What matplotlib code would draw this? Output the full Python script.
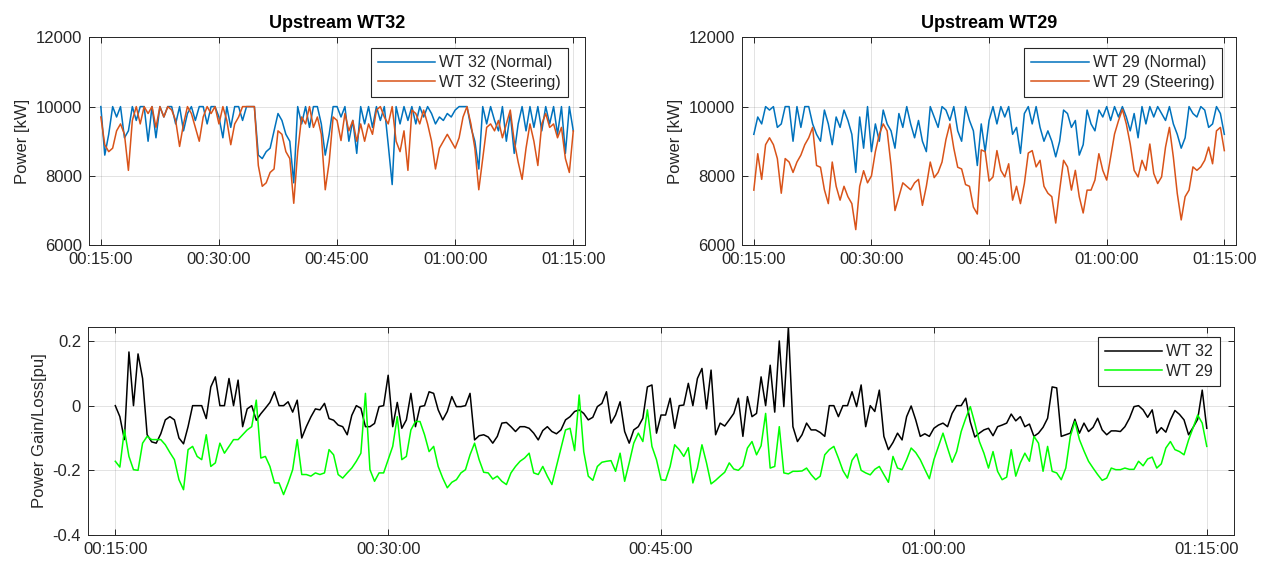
import numpy as np
import matplotlib.pyplot as plt

plt.rcParams['font.family'] = ['Liberation Sans', 'DejaVu Sans']
plt.rcParams['axes.unicode_minus'] = False

# ---- data ----
# top panels: one sample every 30 s from 00:15:00 to 01:15:00
wt32_normal = [
    10000, 8600, 9200, 10000, 9700, 10000, 9100, 9300, 10000, 9600,
    10000, 10000, 9000, 10000, 9100, 10000, 9700, 10000, 10000, 9500,
    10000, 9300, 9800, 10000, 9600, 10000, 10000, 9500, 10000, 10000,
    9700, 9100, 10000, 9400, 10000, 10000, 9600, 10000, 10000, 10000,
    8600, 8500, 8700, 8800, 9300, 9800, 9600, 9200, 9000, 7800,
    10000, 9500, 10000, 9400, 10000, 10000, 9500, 8600, 9200, 10000,
    10000, 9700, 10000, 9000, 9600, 8650, 10000, 9500, 10000, 9400,
    10000, 9600, 10000, 8900, 7750, 10000, 9500, 10000, 9600, 10000,
    9500, 10000, 9700, 10000, 9800, 9500, 9700, 9600, 9800, 9700,
    9900, 10000, 10000, 10000, 9400, 9000, 8200, 10000, 9500, 10000,
    9600, 9300, 10000, 9000, 9800, 8650, 9500, 10000, 9300, 10000,
    9400, 10000, 9300, 10000, 9500, 10000, 9200, 10000, 8650, 10000,
    9300]
wt32_steering = [
    9700, 8900, 8700, 8800, 9300, 9500, 9200, 8160, 9600, 10000,
    9500, 10000, 9800, 10000, 9400, 10000, 9700, 10000, 9900, 9600,
    8850, 9500, 10000, 9800, 9400, 9000, 9700, 10000, 9800, 10000,
    9500, 10000, 9600, 8900, 9500, 9700, 10000, 10000, 10000, 10000,
    8300, 7700, 7800, 8100, 8200, 9300, 9200, 8700, 8500, 7210,
    8700, 9700, 9500, 10000, 9400, 9700, 9200, 7600, 8400, 9700,
    9600, 9020, 9800, 9300, 9600, 9000, 9500, 9000, 9500, 9200,
    9900, 10000, 9700, 9500, 10000, 9000, 8700, 9300, 8160, 9900,
    9800, 9500, 9900, 9500, 9000, 8200, 8800, 9000, 9200, 9000,
    8800, 9100, 9700, 10000, 9500, 8800, 7600, 8500, 9400, 9500,
    9300, 9600, 9100, 9500, 9900, 9000, 8400, 7900, 8800, 9500,
    9000, 8300, 9500, 9800, 9400, 9500, 9100, 9400, 8500, 8100,
    9300]
wt29_normal = [
    9200, 9700, 9500, 10000, 9900, 10000, 9400, 9500, 10000, 10000,
    9000, 10000, 9400, 10000, 10000, 9500, 9200, 9000, 9900, 9500,
    8900, 9700, 9400, 9900, 9600, 9200, 8100, 9700, 8800, 10000,
    8700, 9500, 9000, 9900, 9500, 9300, 8800, 9800, 9400, 10000,
    9500, 9100, 9600, 9000, 8700, 10000, 9700, 9400, 10000, 9900,
    9600, 10000, 9300, 9000, 10000, 9600, 9300, 8300, 9500, 8700,
    9600, 10000, 9500, 10000, 9700, 10000, 9200, 9400, 8650, 9800,
    10000, 9500, 10000, 9400, 9000, 9300, 9000, 8550, 9000, 9900,
    9800, 9400, 9600, 8600, 8900, 9900, 9500, 9300, 9900, 9700,
    10000, 9600, 10000, 9700, 10000, 9700, 9300, 9800, 9100, 10000,
    9500, 10000, 9700, 10000, 9800, 9600, 10000, 9500, 9200, 8800,
    9100, 10000, 9800, 9700, 10000, 9900, 9400, 9500, 10000, 9800,
    9200]
wt29_steering = [
    7590, 8640, 7900, 8900, 9100, 8900, 8500, 7500, 8500, 8400,
    8100, 8400, 8600, 8900, 9100, 9400, 8300, 8250, 7600, 7200,
    8400, 7700, 7300, 7700, 7400, 7200, 6450, 7700, 8150, 7800,
    8000, 8700, 9200, 9500, 9300, 8300, 7000, 7400, 7800, 7700,
    7600, 7800, 7900, 7150, 7700, 8400, 7950, 8100, 8400, 9050,
    9500, 8800, 8250, 8200, 7750, 7700, 7100, 6900, 8750, 8700,
    7850, 7970, 8730, 8160, 7970, 8350, 7300, 7700, 7200, 7780,
    8660, 8730, 8260, 8450, 7700, 7500, 7400, 6640, 7590, 8450,
    8260, 7590, 8160, 7400, 6930, 7590, 7590, 7880, 8640, 8160,
    7880, 8540, 9210, 9590, 9920, 9500, 8920, 8160, 7970, 8450,
    8160, 8920, 8070, 7780, 7970, 8830, 9400, 8540, 7490, 6730,
    7400, 7590, 8260, 8160, 8260, 8450, 8830, 8350, 9300, 9400,
    8730]

# bottom panel: one sample every 15 s
gain_wt32 = [
    0, -0.034, -0.105, 0.166, 0, 0.16, 0.084, -0.09, -0.112, -0.116,
    -0.087, -0.044, -0.034, -0.044, -0.1, -0.118, -0.065, 0, 0, 0,
    -0.04, 0.058, 0.089, 0, 0, 0.084, 0, 0.079, -0.065, -0.01,
    0, -0.045, -0.025, -0.008, 0.01, 0.043, 0, 0, 0.012, -0.02,
    0.017, -0.1, -0.065, -0.035, -0.01, -0.013, 0.007, -0.04, -0.045, -0.06,
    -0.065, -0.09, -0.03, 0, -0.008, -0.065, -0.065, -0.055,
    -0.003, 0, 0.094, -0.065, 0.01, -0.07, -0.044, 0.038, -0.065, -0.003,
    0, 0.043, 0.038, -0.013, -0.044, -0.018, 0.028, -0.003, -0.003, 0,
    0.038, -0.106, -0.093, -0.09, -0.097, -0.116, -0.095, -0.054, -0.052, -0.065,
    -0.08, -0.065, -0.065, -0.07, -0.085, -0.106, -0.077, -0.065, -0.08, -0.087,
    -0.075, -0.044, -0.034, -0.018, -0.013, -0.024, -0.044, -0.036, -0.003, 0.007,
    0.043, -0.054, -0.029, 0.012, -0.08, -0.116, -0.075, -0.065, -0.039, 0.058,
    0.064, -0.085, -0.029,
    -0.029, 0.023, -0.07, 0, 0.002, 0.069, 0, 0.084, 0.115, -0.01,
    0.11, -0.09, -0.054, -0.063, -0.044, -0.024, 0.023, -0.095, 0.028, -0.034,
    -0.024, 0.089, 0, 0.125, -0.02, 0.2, -0.003, 0.243, -0.065, -0.111,
    -0.09, -0.054, -0.075, -0.075, -0.083, -0.095, 0, 0, -0.034, 0,
    0, 0.043, -0.003, 0.064, -0.065, 0, -0.018, 0.048, -0.095, -0.136,
    -0.114, -0.085, -0.106, -0.034, -0.001, -0.044, -0.095, -0.087, -0.095, -0.07,
    -0.06, -0.054, -0.065, -0.024, 0, 0, 0.023, -0.05, -0.097, -0.085,
    -0.075, -0.07, -0.093, -0.065, -0.06, -0.054, -0.026, -0.047, -0.034, -0.065,
    -0.057, -0.095, -0.085, -0.067, -0.039, 0.058, 0.055, -0.095, -0.09, -0.085,
    -0.042, -0.085, -0.054, -0.08, -0.067, -0.039, -0.075, -0.09, -0.078, -0.078,
    -0.08, -0.065, -0.039, -0.003, 0, -0.013, -0.036, -0.013, -0.085, -0.068,
    -0.082, -0.044, -0.015, -0.027, -0.044, -0.09, -0.067, -0.042, 0.048, -0.07]
gain_wt29 = [
    -0.172, -0.19, -0.075, -0.157, -0.198, -0.2, -0.116, -0.095, -0.105, -0.105,
    -0.105, -0.121, -0.145, -0.167, -0.229, -0.26, -0.136, -0.126, -0.157, -0.167,
    -0.09, -0.188, -0.177, -0.116, -0.147, -0.126, -0.105, -0.105, -0.09, -0.075,
    -0.065, 0.017, -0.162, -0.157, -0.188, -0.239, -0.239, -0.275, -0.239, -0.198,
    -0.105, -0.213, -0.213, -0.218, -0.208, -0.213, -0.208, -0.136, -0.152, -0.213,
    -0.224, -0.208, -0.193, -0.172, -0.147, 0.038, -0.198, -0.234,
    -0.208, -0.208, -0.167, -0.126, -0.034, -0.167, -0.157, -0.075, -0.049, -0.049,
    -0.09, -0.142, -0.126, -0.188, -0.224, -0.254, -0.237, -0.229, -0.208, -0.198,
    -0.152, -0.116, -0.167, -0.206, -0.208, -0.227, -0.218, -0.234, -0.244, -0.208,
    -0.188, -0.172, -0.162, -0.147, -0.208, -0.213, -0.188, -0.218, -0.244, -0.188,
    -0.131, -0.075, -0.07, -0.139, 0.033, -0.142, -0.218, -0.231, -0.188, -0.175,
    -0.172, -0.17, -0.203, -0.147, -0.234, -0.177, -0.116, -0.085, -0.111, -0.013,
    -0.126, -0.167, -0.229,
    -0.231, -0.188, -0.121, -0.136, -0.157, -0.13, -0.239, -0.193, -0.121, -0.177,
    -0.242, -0.231, -0.218, -0.206, -0.177, -0.196, -0.2, -0.186, -0.131, -0.111,
    -0.152, -0.124, -0.024, -0.193, -0.188, -0.065, -0.208, -0.211, -0.203, -0.203,
    -0.202, -0.193, -0.213, -0.229, -0.218, -0.152, -0.136, -0.126, -0.162, -0.201,
    -0.224, -0.169, -0.149, -0.2, -0.208, -0.214, -0.197, -0.188, -0.213, -0.237,
    -0.157, -0.193, -0.198, -0.167, -0.131, -0.145, -0.167, -0.197, -0.226, -0.167,
    -0.126, -0.085, -0.131, -0.175, -0.142, -0.08, -0.039, -0.003, -0.054, -0.111,
    -0.147, -0.193, -0.142, -0.203, -0.229, -0.221, -0.136, -0.218, -0.177, -0.147,
    -0.172, -0.095, -0.116, -0.203, -0.126, -0.203, -0.208, -0.229, -0.193, -0.095,
    -0.049, -0.105, -0.14, -0.172, -0.193, -0.213, -0.231, -0.224, -0.193, -0.198,
    -0.198, -0.193, -0.197, -0.197, -0.172, -0.186, -0.165, -0.159, -0.193, -0.18,
    -0.131, -0.111, -0.136, -0.142, -0.152, -0.106, -0.068, -0.029, -0.054, -0.126]

time_ticks = [15, 30, 45, 60, 75]          # minutes after midnight
time_labels = ['00:15:00', '00:30:00', '00:45:00', '01:00:00', '01:15:00']

t_top = 15 + 0.5 * np.arange(len(wt32_normal))
t_bot = 15 + 0.25 * np.arange(len(gain_wt32))

BLUE, ORANGE = '#0072BD', '#D95319'
DARK = '#262626'


def matlab_style(ax):
    ax.set_xlim(13.5, 76.5)
    ax.set_xticks(time_ticks)
    ax.set_xticklabels(time_labels)
    ax.grid(True, color=DARK, alpha=0.13, lw=0.7)
    ax.tick_params(direction='in', top=True, right=True, length=4,
                   width=0.7, colors=DARK, labelsize=12, pad=5)
    for s in ax.spines.values():
        s.set_color(DARK)
        s.set_linewidth(0.7)


def add_legend(ax, anchor):
    leg = ax.legend(loc='upper right', bbox_to_anchor=anchor, borderaxespad=0,
                    fontsize=11.5, frameon=True, fancybox=False,
                    edgecolor=DARK, framealpha=1, handlelength=3.6,
                    handletextpad=0.25, labelspacing=0.3, borderpad=0.45)
    leg.get_frame().set_linewidth(0.8)
    for txt in leg.get_texts():
        txt.set_color(DARK)


fig = plt.figure(figsize=(12.7, 5.65), dpi=100)

# ── Upstream WT32 ──
ax1 = fig.add_axes([0.0701, 0.566, 0.3906, 0.368])
ax1.plot(t_top, wt32_normal, color=BLUE, lw=1.1, label='WT 32 (Normal)')
ax1.plot(t_top, wt32_steering, color=ORANGE, lw=1.1, label='WT 32 (Steering)')
ax1.set_ylim(6000, 12000)
ax1.set_yticks([6000, 8000, 10000, 12000])
ax1.set_ylabel('Power [kW]', fontsize=12, color=DARK)
ax1.set_title('Upstream WT32', fontsize=13, fontweight='bold', pad=7)
matlab_style(ax1)
add_legend(ax1, (0.966, 0.948))

# ── Upstream WT29 ──
ax2 = fig.add_axes([0.5843, 0.566, 0.389, 0.368])
ax2.plot(t_top, wt29_normal, color=BLUE, lw=1.1, label='WT 29 (Normal)')
ax2.plot(t_top, wt29_steering, color=ORANGE, lw=1.1, label='WT 29 (Steering)')
ax2.set_ylim(6000, 12000)
ax2.set_yticks([6000, 8000, 10000, 12000])
ax2.set_ylabel('Power [kW]', fontsize=12, color=DARK)
ax2.set_title('Upstream WT29', fontsize=13, fontweight='bold', pad=7)
matlab_style(ax2)
add_legend(ax2, (0.971, 0.948))

# ── Gain / loss ──
ax3 = fig.add_axes([0.0693, 0.0531, 0.9024, 0.368])
ax3.plot(t_bot, gain_wt32, color='black', lw=1.1, label='WT 32')
ax3.plot(t_bot, gain_wt29, color='#00FF00', lw=1.1, label='WT 29')
ax3.set_ylim(-0.4, 0.243)
ax3.set_yticks([-0.4, -0.2, 0, 0.2])
ax3.set_yticklabels(['-0.4', '-0.2', '0', '0.2'])
ax3.set_ylabel('Power Gain/Loss[pu]', fontsize=12, color=DARK)
matlab_style(ax3)
add_legend(ax3, (0.988, 0.952))

fig.savefig('out.png', dpi=100)
